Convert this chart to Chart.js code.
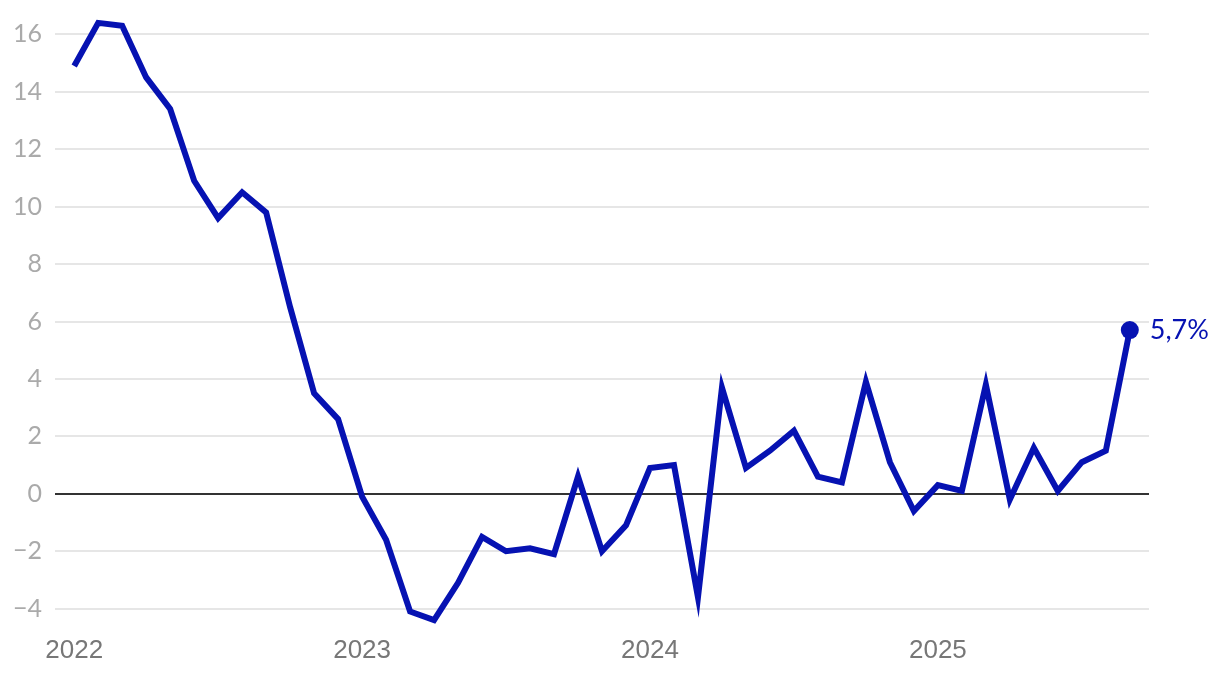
<!DOCTYPE html>
<html><head><meta charset="utf-8">
<script src="https://cdn.jsdelivr.net/npm/chart.js@4"></script>
<style>html,body{margin:0;padding:0;background:#fff}#wrap{width:1220px;height:678px}</style>
</head><body><div id="wrap"><canvas id="c" width="1220" height="678"></canvas></div>
<script>
const startYear = 2022;
const yearLabels = ['2022','2023','2024','2025'];
const values = [14.9,16.4,16.3,14.5,13.4,10.9,9.6,10.5,9.8,6.5,3.5,2.6,
  -0.1,-1.6,-4.1,-4.4,-3.1,-1.5,-2.0,-1.9,-2.1,0.6,-2.0,-1.1,
  0.9,1.0,-3.6,3.7,0.9,1.5,2.2,0.6,0.4,3.9,1.1,-0.6,
  0.3,0.1,3.8,-0.2,1.6,0.1,1.1,1.5,5.7];
const yTicks = [-4,-2,0,2,4,6,8,10,12,14,16];
const lastLabel = '5,7%';
const blue = '#0612b2';

const pts = values.map((v,i)=>({x:i,y:v}));
const lastPlugin = {
  id:'last',
  afterDatasetsDraw(chart){
    const {ctx, scales:{x,y}} = chart;
    const i = values.length-1;
    const px = x.getPixelForValue(i), py = y.getPixelForValue(values[i]);
    ctx.save();
    ctx.beginPath(); ctx.arc(px,py,9,0,Math.PI*2); ctx.fillStyle=blue; ctx.fill();
    ctx.font='27px Lato'; ctx.fillStyle=blue; ctx.textBaseline='middle'; ctx.textAlign='left';
    ctx.fillText(lastLabel, px+20, py);
    ctx.restore();
  }
};
new Chart(document.getElementById('c'),{
  type:'line',
  data:{datasets:[{data:pts,borderColor:blue,borderWidth:6,pointRadius:0,tension:0,borderJoinStyle:'miter',borderCapStyle:'butt',clip:false}]},
  options:{
    responsive:false,animation:false,
    layout:{padding:{left:0,right:71,top:20,bottom:0}},
    plugins:{legend:{display:false},tooltip:{enabled:false}},
    scales:{
      x:{type:'linear',min:-0.8,max:44.8,
        afterBuildTicks(s){s.ticks=yearLabels.map((l,i)=>({value:i*12}));},
        afterFit(s){s.height=55;s.paddingLeft=0;s.paddingRight=0;},
        grid:{display:false},border:{display:false},
        ticks:{autoSkip:false,maxRotation:0,padding:4,color:'#777',font:{family:'Liberation Sans',size:26},
          callback:(v)=>String(startYear+Math.round(v/12))}
      },
      y:{type:'linear',min:-4.5,max:16.5,
        afterBuildTicks(s){s.ticks=yTicks.map(v=>({value:v}));},
        afterFit(s){s.width=55;s.paddingTop=0;s.paddingBottom=0;},
        border:{display:false},
        grid:{drawTicks:false,lineWidth:2,color:(c)=>c.tick&&c.tick.value===0?'#333':'#e6e6e6'},
        ticks:{padding:13,color:'#aaa',font:{family:'Lato',size:25},
          callback:(v)=>v<0?'\u2212'+Math.abs(v):String(v)}
      }
    }
  },
  plugins:[lastPlugin]
});
</script></body></html>
